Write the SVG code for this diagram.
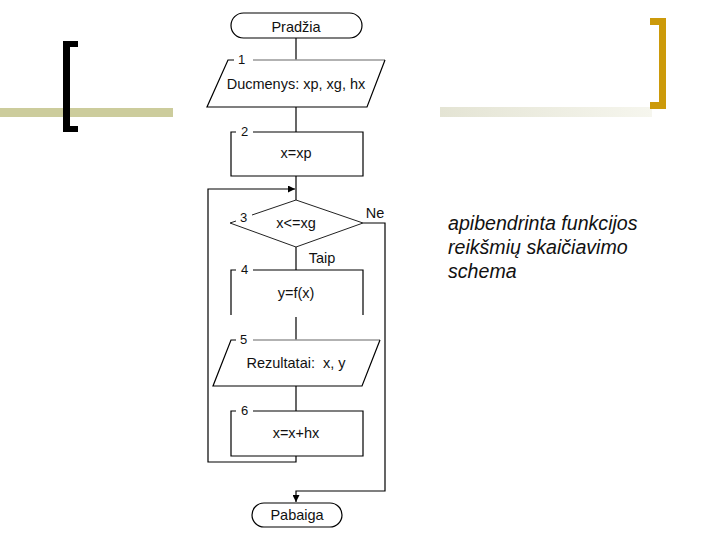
<svg xmlns="http://www.w3.org/2000/svg" width="720" height="540" viewBox="0 0 720 540">
<style>
.ln{fill:none;stroke:#000;stroke-width:1.2}
.gr{fill:none;stroke:#999;stroke-width:1.6}
.dm{fill:none;stroke:#222;stroke-width:1}
.t{font-family:"Liberation Sans",Arial,sans-serif;font-size:14.5px;fill:#111;text-anchor:middle}
.n{font-family:"Liberation Sans",Arial,sans-serif;font-size:13px;fill:#111}
.cap{font-family:"Liberation Sans",Arial,sans-serif;font-size:19.6px;font-style:italic;fill:#111}
</style>
<defs>
<linearGradient id="fade" x1="0" y1="0" x2="1" y2="0">
<stop offset="0" stop-color="#e4e4d4"/>
<stop offset="1" stop-color="#f6f6ee"/>
</linearGradient>
<marker id="ah" viewBox="0 0 10 10" refX="10" refY="5" markerWidth="7" markerHeight="7" orient="auto" markerUnits="userSpaceOnUse">
<path d="M0,0 L10,5 L0,10 z" fill="#000"/>
</marker>
</defs>
<rect width="720" height="540" fill="#fff"/>
<g id="decor">
<rect x="0" y="108" width="173" height="9" fill="#cccc9c"/>
<path d="M78,41 H63 V132 H78 V126 H70 V47 H78 z" fill="#000"/>
<rect x="440" y="107" width="212" height="10" fill="url(#fade)"/>
<path d="M650,18 H666 V109 H650 V102 H659 V25 H650 z" fill="#cc9a0a"/>
</g>
<g id="connectors">
<path class="ln" d="M296,38 V60"/>
<path class="ln" d="M296,107 V132"/>
<path class="ln" d="M296,176 V200"/>
<path class="ln" d="M296,247 V270"/>
<path class="ln" d="M296,317 V340"/>
<path class="ln" d="M296,386 V411"/>
<path class="ln" d="M296,456 V462 H208 V189 H295" marker-end="url(#ah)"/>
<path class="ln" d="M363,223 H385 V491 H296 V502" marker-end="url(#ah)"/>
<text class="t" x="375" y="218">Ne</text>
<text class="t" x="322" y="263">Taip</text>
</g>
<g id="start">
<rect class="ln" x="231" y="13" width="131" height="25" rx="12.5"/>
<text class="t" x="296" y="32">Pradžia</text>
</g>
<g id="n1">
<path class="gr" d="M253,60 H385"/>
<path class="ln" d="M234,60 H228 L207,107 H367 L385,60"/>
<text class="n" x="238" y="64">1</text>
<text class="t" x="296" y="89">Ducmenys: xp, xg, hx</text>
</g>
<g id="n2">
<path class="ln" d="M236,132 H231 V176 H363 V132 H253"/>
<text class="n" x="241" y="136">2</text>
<text class="t" x="296" y="158">x=xp</text>
</g>
<g id="n3">
<path class="dm" d="M252,215 L296,200 L363,223 L296,247 L230,223 L236,221"/>
<text class="n" x="240" y="222">3</text>
<text class="t" x="296" y="228">x&lt;=xg</text>
</g>
<g id="n4">
<path class="ln" d="M236,270 H231 V315 M363,315 V270 H253"/>
<text class="n" x="241" y="274">4</text>
<text class="t" x="296" y="298">y=f(x)</text>
</g>
<g id="n5">
<path class="gr" d="M253,340 H380"/>
<path class="ln" d="M236,340 H231 L213,386 H362 L380,340"/>
<text class="n" x="240" y="344">5</text>
<text class="t" x="296" y="368" xml:space="preserve">Rezultatai:  x, y</text>
</g>
<g id="n6">
<path class="ln" d="M236,411 H231 V456 H363 V411 H253"/>
<text class="n" x="241" y="415">6</text>
<text class="t" x="296" y="438">x=x+hx</text>
</g>
<g id="end">
<rect class="ln" x="252" y="503" width="90" height="24" rx="12"/>
<text class="t" x="297" y="520">Pabaiga</text>
</g>
<g id="caption">
<text class="cap" x="448" y="230">apibendrinta funkcijos</text>
<text class="cap" x="448" y="254">reikšmių skaičiavimo</text>
<text class="cap" x="448" y="278">schema</text>
</g>
</svg>
